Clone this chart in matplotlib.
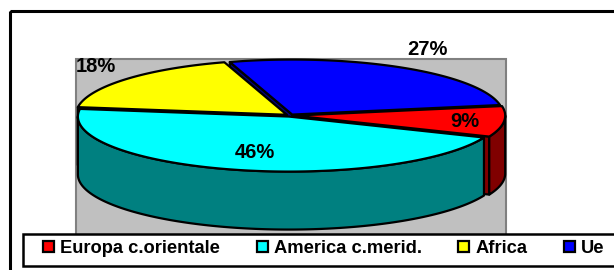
import numpy as np
import matplotlib
matplotlib.use("Agg")
import matplotlib.pyplot as plt
from matplotlib.patches import Polygon, Rectangle, Patch

# ---- data ----
categories = ["Europa c.orientale", "America c.merid.", "Africa", "Ue"]
values = [9, 46, 18, 27]
pct_labels = ["9%", "46%", "18%", "27%"]
top_colors = ["#FF0000", "#00FFFF", "#FFFF00", "#0000FF"]
side_colors = ["#800000", "#008080", "#808000", "#000080"]
label_radius = [0.816, 0.665, 1.26, 1.345]
label_angle_shift = [-1.3, 1.2, -3.7, 2.9]

plt.rcParams['font.family'] = ['Liberation Sans', 'DejaVu Sans']

fig = plt.figure(figsize=(6.14, 2.70), dpi=100)
ax = fig.add_axes([0, 0, 1, 1])
ax.set_xlim(0, 614)
ax.set_ylim(270, 0)
ax.axis('off')

# outer chart frame and grey plot area
ax.add_patch(Rectangle((9.5, 11), 700, 400, fill=False, ec='black', lw=2.2, zorder=0))
ax.add_patch(Rectangle((76, 59), 430, 190, fc='#C0C0C0', ec='#808080', lw=1.5, zorder=1))

# ---- 3D pie geometry ----
cx, cy, rx, ry, depth = 290, 115.5, 211, 55, 58
start = 10.0
explode = 0.02


def proj(x, y, z=0.0):
    return cx + rx * x, cy - ry * y + depth * z


fr = np.array(values, dtype=float) / sum(values)
cum = np.concatenate([[0], np.cumsum(fr)])
a_hi = start - 360 * cum[:-1]
a_lo = start - 360 * cum[1:]
mids = (a_hi + a_lo) / 2
offs = [(explode * np.cos(np.radians(m)), explode * np.sin(np.radians(m))) for m in mids]

lw = 1.6
faces = []
for i in range(len(values)):
    ox, oy = offs[i]
    for a, vis in ((a_lo[i], np.cos(np.radians(a_lo[i])) > 0),
                   (a_hi[i], np.cos(np.radians(a_hi[i])) < 0)):
        if not vis:
            continue
        c, s = np.cos(np.radians(a)), np.sin(np.radians(a))
        pts = [proj(ox, oy, 0), proj(ox + c, oy + s, 0),
               proj(ox + c, oy + s, 1), proj(ox, oy, 1)]
        key = oy + 0.5 * s
        faces.append((key, pts, side_colors[i]))
faces.sort(key=lambda t: -t[0])
for _, pts, col in faces:
    ax.add_patch(Polygon(pts, closed=True, fc=col, ec='black', lw=lw,
                         joinstyle='round', zorder=2))

# outer walls (front half only)
for i in range(len(values)):
    ox, oy = offs[i]
    lo, hi = a_lo[i], a_hi[i]
    for k in range(-2, 2):
        f0, f1 = 180 + 360 * k, 360 + 360 * k
        s0, s1 = max(lo, f0), min(hi, f1)
        if s1 - s0 <= 0.01:
            continue
        th = np.radians(np.linspace(s0, s1, 200))
        top = [proj(ox + np.cos(t), oy + np.sin(t), 0) for t in th]
        bot = [proj(ox + np.cos(t), oy + np.sin(t), 1) for t in th[::-1]]
        ax.add_patch(Polygon(top + bot, closed=True, fc=side_colors[i], ec='black',
                             lw=lw, joinstyle='round', zorder=3))

# top faces
for i in range(len(values)):
    ox, oy = offs[i]
    th = np.radians(np.linspace(a_lo[i], a_hi[i], 300))
    pts = [proj(ox, oy)] + [proj(ox + np.cos(t), oy + np.sin(t)) for t in th]
    ax.add_patch(Polygon(pts, closed=True, fc=top_colors[i], ec='black', lw=lw,
                         joinstyle='round', zorder=4))

# percentage labels
for i in range(len(values)):
    ox, oy = offs[i]
    m = np.radians(mids[i] + label_angle_shift[i])
    x, y = proj(ox + label_radius[i] * np.cos(m), oy + label_radius[i] * np.sin(m))
    ax.text(x, y, pct_labels[i], ha='center', va='center', fontsize=14.5,
            fontweight='bold', color='black', zorder=6)

# legend
ax.add_patch(Rectangle((23, 233.5), 700, 32.5, fc='white', ec='black', lw=1.8, zorder=5))
handles = [Patch(fc=c, ec='black', lw=1.6) for c in top_colors]
leg = ax.legend(handles, categories, loc='center left', bbox_to_anchor=(43, 248.5),
                bbox_transform=ax.transData, ncol=4, frameon=False,
                prop={'weight': 'bold', 'size': 13.2}, handlelength=0.6,
                handleheight=0.6, handletextpad=0.33, columnspacing=2.0,
                borderpad=0, borderaxespad=0)
leg.set_zorder(7)

fig.savefig("out.png", dpi=100)
